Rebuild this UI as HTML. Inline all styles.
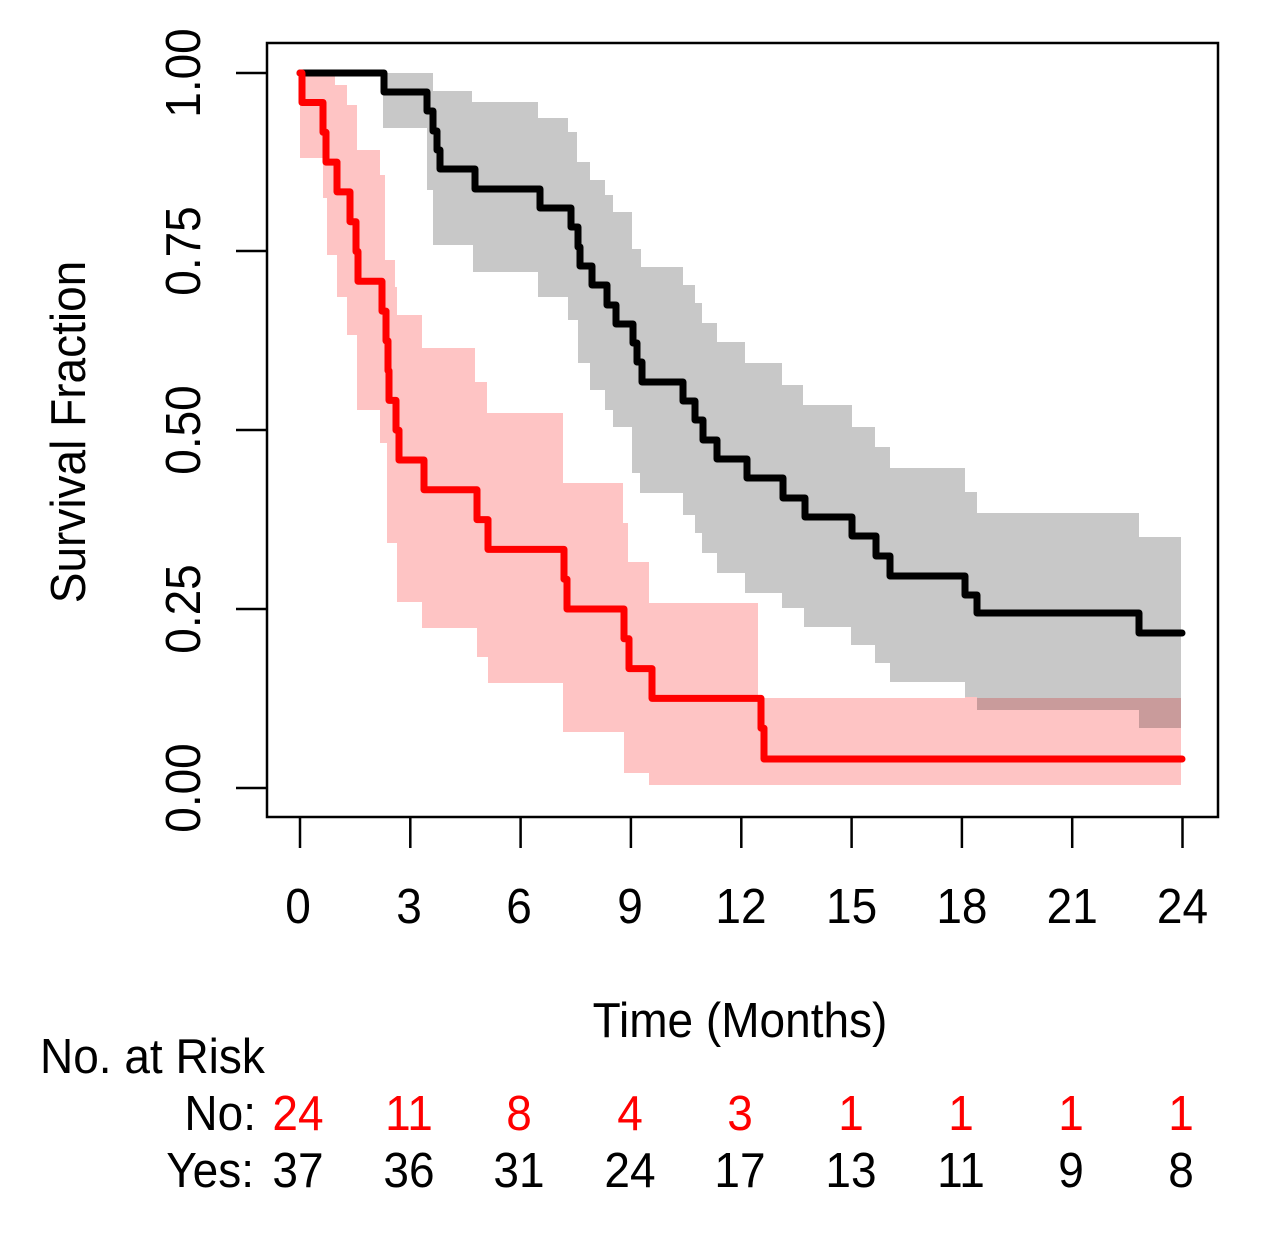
<!DOCTYPE html>
<html>
<head>
<meta charset="utf-8">
<style>
  html, body { margin: 0; padding: 0; background: #ffffff; }
  svg { display: block; }
  text { font-family: "Liberation Sans", Arial, sans-serif; font-size: 46px; fill: #000; }
  .r { fill: #ff0000; }
</style>
</head>
<body>
<svg width="1270" height="1254" viewBox="0 0 1270 1254" xmlns="http://www.w3.org/2000/svg">
  <rect x="0" y="0" width="1270" height="1254" fill="#ffffff"/>

  <!-- Gray CI band (Yes group) -->
  <polygon fill="#c8c8c8" points="
    383,73 433,73 433,91 472,91 472,102 538,102 538,118 568,118 568,132 577,132 577,162 590,162 590,180 605,180 605,195 613,195 613,212 632,212 632,249 641,249 641,267 683,267 683,285 695,285 695,303 702,303 702,323 717,323 717,342 745,342 745,363 782,363 782,385 803,385 803,405 852,405 852,427 875,427 875,447 890,447 890,468 965,468 965,492 977,492 977,513 1139,513 1139,537 1181,537
    1181,728 1139,728 1139,710 977,710 977,697 965,697 965,682 890,682 890,663 875,663 875,645 851,645 851,627 804,627 804,608 782,608 782,593 745,593 745,573 717,573 717,553 702,553 702,533 695,533 695,515 683,515 683,493 640,493 640,473 632,473 632,427 613,427 613,410 605,410 605,390 590,390 590,363 578,363 578,320 568,320 568,297 538,297 538,272 473,272 473,245 433,245 433,190 427,190 427,128 383,128"/>

  <!-- Pink CI band (No group) -->
  <polygon fill="#fec4c4" points="
    300,73 335,73 335,85 347,85 347,105 357,105 357,150 380,150 380,175 385,175 385,260 395,260 395,287 397,287 397,315 422,315 422,348 475,348 475,382 487,382 487,413 563,413 563,483 623,483 623,523 628,523 628,562 649,562 649,603 758,603 758,698 965,698 965,697 977,697 977,698 1181,698
    1181,785 649,785 649,773 624,773 624,732 563,732 563,683 488,683 488,657 477,657 477,628 422,628 422,602 397,602 397,543 387,543 387,443 380,443 380,410 357,410 357,335 347,335 347,297 337,297 337,255 327,255 327,198 323,198 323,158 300,158"/>

  <!-- Overlap -->
  <rect x="977" y="698" width="162" height="12" fill="#c99b9b"/>
  <rect x="1139" y="698" width="42" height="30" fill="#c99b9b"/>

  <!-- Black KM curve (Yes) -->
  <path fill="none" stroke="#000000" stroke-width="7" stroke-linejoin="round" stroke-linecap="round"
    d="M300,73 H384 V92 H427 V111 H433 V131 H437 V150 H440 V169 H475 V189 H540 V208 H571 V227 H578 V247 H580 V266 H592 V285 H607 V305 H616 V324 H633 V343 H637 V362 H642 V382 H683 V401 H695 V420 H703 V440 H717 V459 H747 V478 H783 V498 H805 V517 H852 V536 H876 V556 H890 V576 H965 V595 H977 V613 H1139 V633 H1182"/>

  <!-- Red KM curve (No) -->
  <path fill="none" stroke="#ff0000" stroke-width="7" stroke-linejoin="round" stroke-linecap="round"
    d="M300,73 H302 V102.5 H323 V132.3 H326 V162.1 H337 V191.9 H350 V221.7 H356 V251.5 H358 V281.3 H382 V311.1 H386 V340.9 H388 V370.7 H389 V400.4 H396 V430.2 H399 V460 H424 V489.8 H477 V519.6 H488 V549.4 H564 V579.2 H567 V609 H624 V638.8 H629 V668.6 H652 V698.4 H761 V728.2 H764 V759 H1182"/>

  <!-- Frame -->
  <rect x="267" y="43" width="951" height="774" fill="none" stroke="#000" stroke-width="2.5"/>

  <!-- Y ticks -->
  <g stroke="#000" stroke-width="2.5">
    <line x1="236" y1="73" x2="267" y2="73"/>
    <line x1="236" y1="251" x2="267" y2="251"/>
    <line x1="236" y1="430" x2="267" y2="430"/>
    <line x1="236" y1="609" x2="267" y2="609"/>
    <line x1="236" y1="788" x2="267" y2="788"/>
  </g>
  <!-- X ticks -->
  <g stroke="#000" stroke-width="2.5">
    <line x1="300" y1="817" x2="300" y2="848"/>
    <line x1="410.3" y1="817" x2="410.3" y2="848"/>
    <line x1="520.6" y1="817" x2="520.6" y2="848"/>
    <line x1="630.9" y1="817" x2="630.9" y2="848"/>
    <line x1="741.3" y1="817" x2="741.3" y2="848"/>
    <line x1="851.6" y1="817" x2="851.6" y2="848"/>
    <line x1="961.9" y1="817" x2="961.9" y2="848"/>
    <line x1="1072.2" y1="817" x2="1072.2" y2="848"/>
    <line x1="1182.5" y1="817" x2="1182.5" y2="848"/>
  </g>

  <!-- Y tick labels -->
  <g text-anchor="middle">
    <text transform="translate(200,73) rotate(-90) scale(1,1.07)">1.00</text>
    <text transform="translate(200,251) rotate(-90) scale(1,1.07)">0.75</text>
    <text transform="translate(200,430) rotate(-90) scale(1,1.07)">0.50</text>
    <text transform="translate(200,609) rotate(-90) scale(1,1.07)">0.25</text>
    <text transform="translate(200,788) rotate(-90) scale(1,1.07)">0.00</text>
  </g>

  <!-- Y axis label -->
  <text text-anchor="middle" transform="translate(85,432) rotate(-90) scale(1,1.07)">Survival Fraction</text>

  <!-- X tick labels -->
  <g text-anchor="middle">
    <text transform="translate(298,923) scale(1,1.07)">0</text>
    <text transform="translate(409,923) scale(1,1.07)">3</text>
    <text transform="translate(519,923) scale(1,1.07)">6</text>
    <text transform="translate(630,923) scale(1,1.07)">9</text>
    <text transform="translate(741,923) scale(1,1.07)">12</text>
    <text transform="translate(851.6,923) scale(1,1.07)">15</text>
    <text transform="translate(961.9,923) scale(1,1.07)">18</text>
    <text transform="translate(1072.2,923) scale(1,1.07)">21</text>
    <text transform="translate(1182.5,923) scale(1,1.07)">24</text>
  </g>

  <!-- X axis label -->
  <text text-anchor="middle" transform="translate(740,1037) scale(1,1.07)">Time (Months)</text>

  <!-- At risk table -->
  <text transform="translate(40,1073) scale(1,1.07)">No. at Risk</text>
  <text text-anchor="end" transform="translate(256,1130) scale(1,1.07)">No:</text>
  <text text-anchor="end" transform="translate(254,1187) scale(1,1.07)">Yes:</text>

  <g text-anchor="middle">
    <text class="r" transform="translate(298,1130) scale(1,1.07)">24</text>
    <text class="r" transform="translate(409,1130) scale(1,1.07)">11</text>
    <text class="r" transform="translate(519,1130) scale(1,1.07)">8</text>
    <text class="r" transform="translate(630,1130) scale(1,1.07)">4</text>
    <text class="r" transform="translate(740,1130) scale(1,1.07)">3</text>
    <text class="r" transform="translate(851,1130) scale(1,1.07)">1</text>
    <text class="r" transform="translate(961,1130) scale(1,1.07)">1</text>
    <text class="r" transform="translate(1071,1130) scale(1,1.07)">1</text>
    <text class="r" transform="translate(1181,1130) scale(1,1.07)">1</text>

    <text transform="translate(298,1187) scale(1,1.07)">37</text>
    <text transform="translate(409,1187) scale(1,1.07)">36</text>
    <text transform="translate(519,1187) scale(1,1.07)">31</text>
    <text transform="translate(630,1187) scale(1,1.07)">24</text>
    <text transform="translate(740,1187) scale(1,1.07)">17</text>
    <text transform="translate(851,1187) scale(1,1.07)">13</text>
    <text transform="translate(961,1187) scale(1,1.07)">11</text>
    <text transform="translate(1071,1187) scale(1,1.07)">9</text>
    <text transform="translate(1181,1187) scale(1,1.07)">8</text>
  </g>
</svg>
</body>
</html>
